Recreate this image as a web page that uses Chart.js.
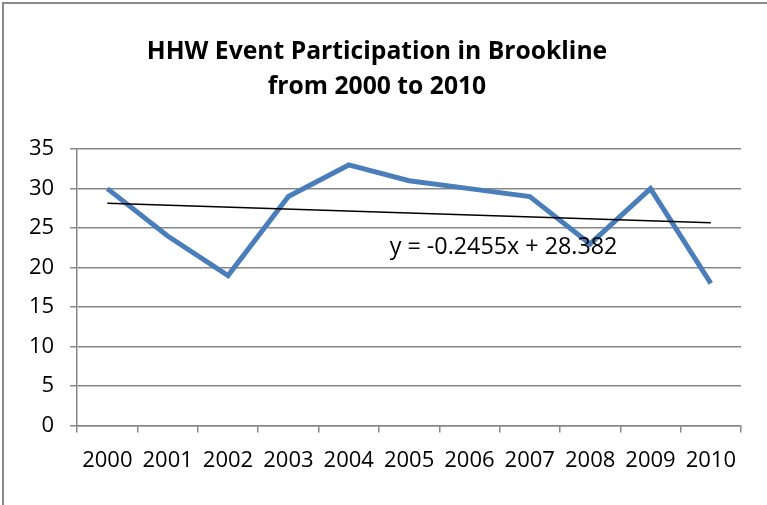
<!DOCTYPE html>
<html>
<head>
<meta charset="utf-8">
<script src="https://cdn.jsdelivr.net/npm/chart.js@4"></script>
<style>
  html, body { margin: 0; padding: 0; background: #fff; }
  #wrap { position: relative; width: 767px; height: 505px; overflow: hidden; }
  #c { position: absolute; left: 0; top: 0; }
  #frame { position: absolute; left: 2px; top: 2px; width: 900px; height: 700px;
           border-left: 2px solid #8a8a8a; border-top: 2px solid #8a8a8a; pointer-events: none; }
</style>
</head>
<body>
<div id="wrap">
  <canvas id="c" width="767" height="505"></canvas>
  <div id="frame"></div>
</div>
<script>
const categories = ['2000','2001','2002','2003','2004','2005','2006','2007','2008','2009','2010'];
const participation = [30, 24, 19, 29, 33, 31, 30, 29, 23, 30, 18];
const trendValues = [28.14, null, null, null, null, null, null, null, null, null, 25.68];
const trendLabel = 'y = -0.2455x + 28.382';
const yTicks = [0, 5, 10, 15, 20, 25, 30, 35];
const titleLines = ['HHW Event Participation in Brookline', 'from 2000 to 2010'];

const FONT = "'Open Sans', 'Liberation Sans', sans-serif";
const GRID = '#878787';

const eqPlugin = {
  id: 'eqLabel',
  afterDatasetsDraw(chart) {
    const {ctx, scales} = chart;
    const x = scales.x.getPixelForValue(4.68);
    const y = scales.y.getPixelForValue(22.6);
    ctx.save();
    ctx.font = "23.3px " + FONT;
    ctx.fillStyle = '#000';
    ctx.textAlign = 'left';
    ctx.textBaseline = 'middle';
    ctx.fillText(trendLabel, x, y);
    ctx.restore();
  }
};

new Chart(document.getElementById('c'), {
  type: 'line',
  data: {
    labels: categories,
    datasets: [
      {
        data: participation,
        borderColor: '#4a7ebb',
        borderWidth: 5,
        pointRadius: 0,
        tension: 0,
        borderJoinStyle: 'miter',
        order: 2
      },
      {
        data: trendValues,
        spanGaps: true,
        borderColor: '#000',
        borderWidth: 1.5,
        pointRadius: 0,
        order: 1
      }
    ]
  },
  options: {
    responsive: false,
    animation: false,
    layout: { padding: { left: 13, right: 26, top: 0, bottom: 16 } },
    plugins: {
      legend: { display: false },
      tooltip: { enabled: false },
      title: {
        display: true,
        text: titleLines,
        color: '#000',
        font: { family: FONT, size: 24.7, weight: 'bold', lineHeight: 1.42 },
        padding: { top: 34, bottom: 45 }
      }
    },
    scales: {
      x: {
        type: 'category',
        offset: true,
        grid: {
          offset: true,
          drawOnChartArea: false,
          drawTicks: true,
          tickLength: 7,
          color: GRID,
          lineWidth: 1.5
        },
        border: { display: true, color: GRID, width: 1.5 },
        ticks: { color: '#000', font: { family: FONT, size: 22 }, padding: 15, maxRotation: 0, autoSkip: false }
      },
      y: {
        min: 0,
        max: 35,
        afterBuildTicks(scale) { scale.ticks = yTicks.map(v => ({ value: v })); },
        grid: { color: GRID, lineWidth: 1.5, tickLength: 7 },
        border: { display: true, color: GRID, width: 1.5 },
        ticks: { color: '#000', font: { family: FONT, size: 22 }, padding: 16 }
      }
    }
  },
  plugins: [eqPlugin]
});
</script>
</body>
</html>
